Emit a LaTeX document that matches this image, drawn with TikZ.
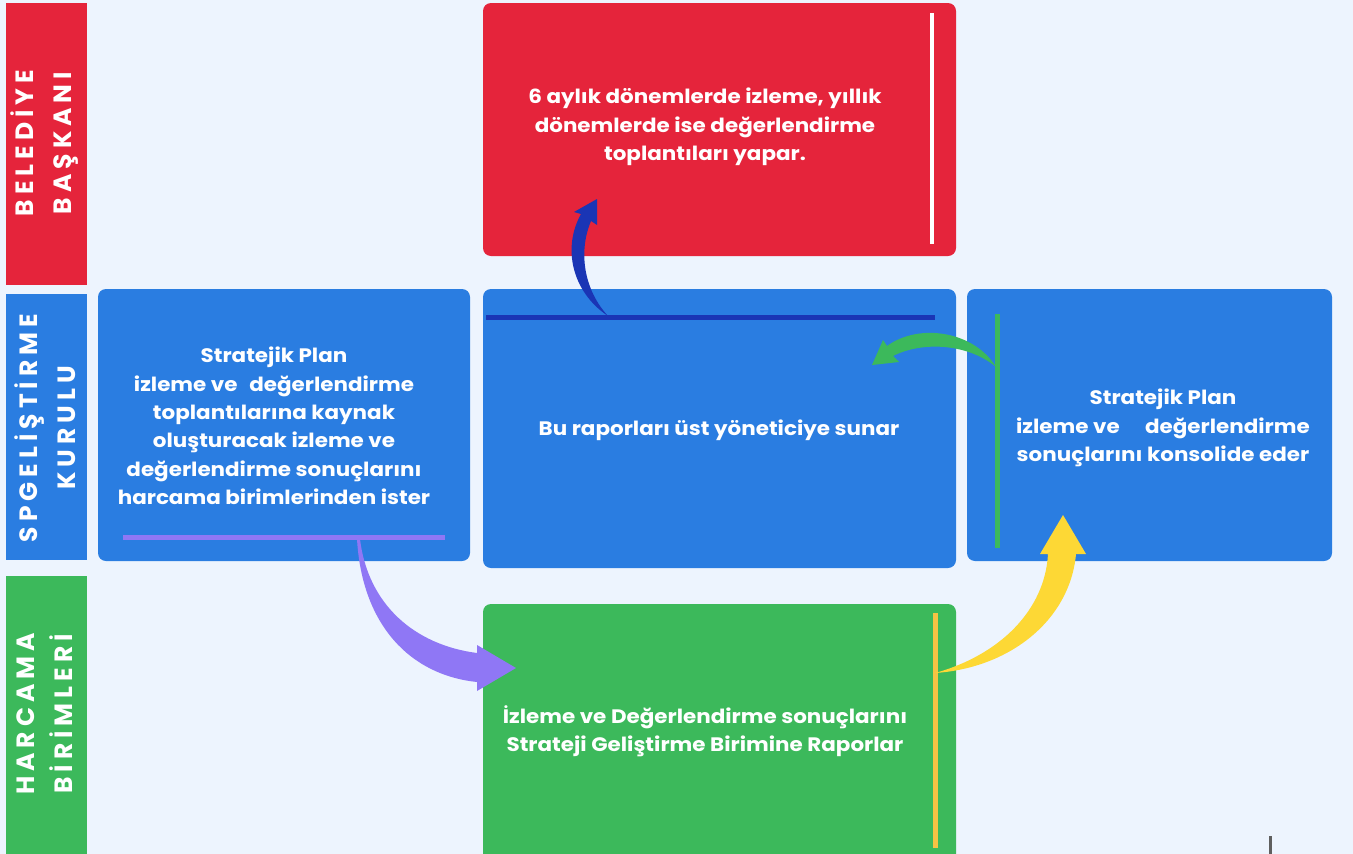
\documentclass[tikz,border=0pt]{standalone}
\usepackage{fontspec}
\setmainfont{Poppins}[FakeStretch=1.1]
\newfontfamily\lanefont[LetterSpace=20]{Poppins}
\definecolor{bgc}{HTML}{EDF4FE}
\definecolor{cred}{HTML}{E5243B}
\definecolor{cblue}{HTML}{2A7DE1}
\definecolor{cgreen}{HTML}{3CB95B}
\definecolor{cnavy}{HTML}{1A35B5}
\definecolor{cpurple}{HTML}{8F77F5}
\definecolor{cyelline}{HTML}{F6C344}
\definecolor{cyellow}{HTML}{FDD835}
\definecolor{cgrey}{HTML}{5F5F5F}
\tikzset{
  laneband/.style={rotate=90, inner sep=0pt, text=white, align=center,
    font=\lanefont\bfseries\fontsize{25}{38}\selectfont},
  box/.style={rounded corners=8pt, inner sep=0pt},
  boxtext/.style={text=white, align=center, inner sep=0pt,
    font=\bfseries\fontsize{19.5}{28.4}\selectfont},
  bar/.style={line width=5pt},
}
\begin{document}
\begin{tikzpicture}[x=1pt,y=-1pt]
\useasboundingbox (0,0) rectangle (1353,854);
\clip (0,0) rectangle (1353,854);
\fill[bgc] (0,0) rectangle (1353,854);

% lane bands
\fill[cred] (6,3) rectangle (87,285);
\fill[cblue] (6,294) rectangle (87,560);
\fill[cgreen] (6,576) rectangle (87,860);
\node[laneband] (lane1) at (45,143) {BELEDİYE\\BAŞKANI};
\node[laneband] (lane2) at (45,428) {SPGELİŞTİRME\\KURULU};
\node[laneband] (lane3) at (45,714) {HARCAMA\\BİRİMLERİ};

% boxes
\fill[box, cred] (483,3) rectangle (956,256);
\fill[box, cblue] (98,289) rectangle (470,561);
\fill[box, cblue] (483,289) rectangle (956,568);
\fill[box, cblue] (967,289) rectangle (1332,561);
\fill[box, cgreen] (483,604) rectangle (956,880);

% bars
\draw[line width=4pt, white] (932,13) -- (932,244);
\draw[bar, cnavy] (486,317) -- (935,317);
\draw[bar, cpurple] (123,537) -- (445,537);
\draw[bar, cgreen] (997,314) -- (997,548);
\draw[bar, cyelline] (935,613) -- (935,848);

% texts
\node[boxtext] (tred) at (705,127) {6 aylık dönemlerde izleme, yıllık\\dönemlerde ise değerlendirme\\toplantıları yapar.};
\node[boxtext] (tleft) at (274,426) {Stratejik Plan\\izleme ve\hspace{0.6em}değerlendirme\\toplantılarına kaynak\\oluşturacak izleme ve\\değerlendirme sonuçlarını\\harcama birimlerinden ister};
\node[boxtext] (tmid) at (719,430) {Bu raporları üst yöneticiye sunar};
\node[boxtext] (tright) at (1163,428) {Stratejik Plan\\izleme ve\hspace{1.3em}değerlendirme\\sonuçlarını konsolide eder};
\node[boxtext] (tgreen) at (705,731) {İzleme ve Değerlendirme sonuçlarını\\Strateji Geliştirme Birimine Raporlar};

% arrow coordinates
\coordinate (a1t) at (608,316);
\coordinate (a1h) at (597,199);
\coordinate (a2t) at (996,367);
\coordinate (a2h) at (872,365);
\coordinate (a3t) at (357,539);
\coordinate (a3h) at (516,668);
\coordinate (a4t) at (935,673);
\coordinate (a4h) at (1063,515);

% navy arrow up to red box
\fill[cnavy] (a1t) .. controls (572,292) and (562,248) .. (581,214)
  -- (574,212) -- (a1h) -- (597,225) -- (591,221)
  .. controls (578,252) and (584,290) .. (a1t) -- cycle;
% green arrow to middle box
\fill[cgreen] (a2t) .. controls (975,332) and (920,322) .. (887,346)
  -- (883,340) -- (a2h) -- (899,362) -- (893,356)
  .. controls (925,340) and (970,345) .. (a2t) -- cycle;
% purple arrow down to green box
\fill[cpurple] (a3t) .. controls (362,625) and (410,675) .. (477,682)
  -- (477,691) -- (a3h) -- (477,645) -- (477,653)
  .. controls (415,645) and (368,605) .. (360,539) -- cycle;
% yellow arrow up to right box
\fill[cyellow] (a4t) .. controls (1000,655) and (1045,610) .. (1048,554)
  -- (1040,554) -- (a4h) -- (1086,554) -- (1076,554)
  .. controls (1070,620) and (1010,668) .. (a4t) -- cycle;

% small mark
\coordinate (m1) at (1270,836);
\coordinate (m2) at (1270,860);
\draw[line width=3pt, cgrey] (m1) -- (m2);
\end{tikzpicture}
\end{document}
